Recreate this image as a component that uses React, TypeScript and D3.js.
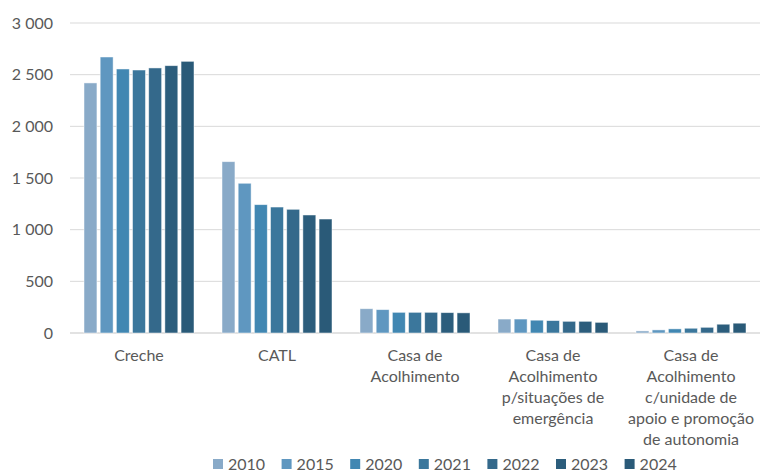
import * as d3 from "d3"

const categories = [
  ["Creche"],
  ["CATL"],
  ["Casa de", "Acolhimento"],
  ["Casa de", "Acolhimento", "p/situações de", "emergência"],
  ["Casa de", "Acolhimento", "c/unidade de", "apoio e promoção", "de autonomia"],
]
const years = ["2010", "2015", "2020", "2021", "2022", "2023", "2024"]
const colors = ["#89aac8", "#5f97c0", "#4187b2", "#3b779c", "#34698b", "#2c5d7c", "#2a5a78"]

const v2010 = [2420, 1658, 235, 135, 20]
const v2015 = [2671, 1449, 226, 135, 30]
const v2020 = [2555, 1242, 200, 124, 40]
const v2021 = [2545, 1219, 200, 120, 46]
const v2022 = [2565, 1197, 200, 113, 55]
const v2023 = [2587, 1142, 197, 113, 85]
const v2024 = [2629, 1103, 195, 103, 95]
const series = [v2010, v2015, v2020, v2021, v2022, v2023, v2024]
const yTicks = [0, 500, 1000, 1500, 2000, 2500, 3000]

const W = 763
const H = 474
const left = 70
const right = 760
const top = 23
const bottom = 333
const font = "Lato, 'Open Sans', sans-serif"
const textColor = "#595959"

const fmt = (n: number) => d3.format(",")(n).replace(/,/g, " ")

export default function App() {
  const x = d3
    .scaleBand<number>()
    .domain(categories.map((_, i) => i))
    .range([left, right])
    .paddingInner(0)
    .paddingOuter(0)
  const inner = d3
    .scaleBand<number>()
    .domain(years.map((_, i) => i))
    .range([14, x.bandwidth() - 14])
    .paddingInner(0.2)
  const y = d3.scaleLinear().domain([0, 3000]).range([bottom, top])

  const legendStart = 213
  const legendStep = 68.6

  return (
    <svg
      width={W}
      height={H}
      style={{ position: "absolute", left: 0, top: 0, background: "#fff" }}
      fontFamily={font}
    >
      {yTicks.map((t) => (
        <g key={t}>
          <line
            x1={left}
            x2={right}
            y1={y(t)}
            y2={y(t)}
            stroke="#d9d9d9"
            strokeWidth={t === 0 ? 1.5 : 1}
          />
          <text
            x={53}
            y={y(t)}
            dy="0.35em"
            textAnchor="end"
            fontSize={16}
            fill={textColor}
          >
            {fmt(t)}
          </text>
        </g>
      ))}

      {series.map((vals, si) =>
        vals.map((v, ci) => (
          <rect
            key={`${si}-${ci}`}
            x={x(ci)! + inner(si)!}
            y={y(v)}
            width={inner.bandwidth()}
            height={y(0) - y(v)}
            fill={colors[si]}
            stroke="#ffffff"
            strokeOpacity={0.6}
            strokeWidth={0.8}
          />
        ))
      )}

      {categories.map((lines, ci) => (
        <text
          key={ci}
          x={x(ci)! + x.bandwidth() / 2}
          y={355}
          textAnchor="middle"
          fontSize={16}
          fill={textColor}
        >
          {lines.map((l, li) => (
            <tspan key={li} x={x(ci)! + x.bandwidth() / 2} dy={li === 0 ? "0.35em" : 21}>
              {l}
            </tspan>
          ))}
        </text>
      ))}

      {years.map((yr, i) => (
        <g key={yr} transform={`translate(${legendStart + i * legendStep},464)`}>
          <rect x={0} y={-5} width={10} height={10} fill={colors[i]} />
          <text x={15} y={0} dy="0.35em" fontSize={16} fill={textColor}>
            {yr}
          </text>
        </g>
      ))}
    </svg>
  )
}
